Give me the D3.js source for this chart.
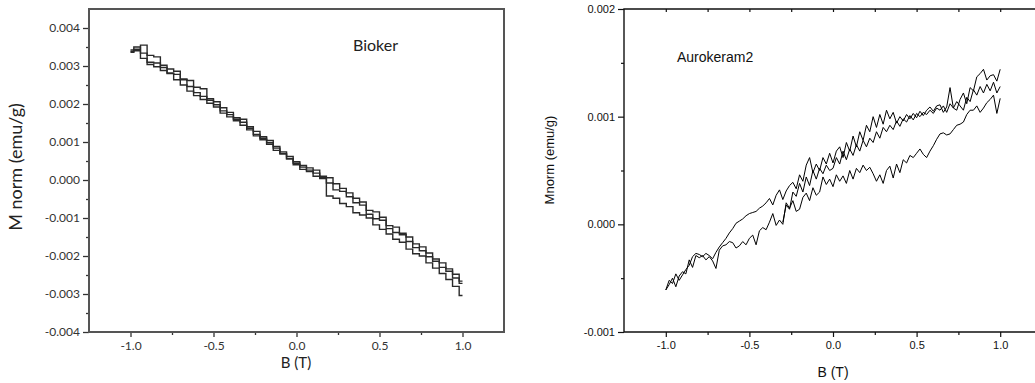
<!DOCTYPE html>
<html>
<head>
<meta charset="utf-8">
<script src="https://cdn.jsdelivr.net/npm/d3@7"></script>
<style>
  body { margin: 0; background: #fff; }
  svg { display: block; }
</style>
</head>
<body>
<div id="chart"></div>
<script>
// ---- Bioker panel: field sweep (T) and three measured branches, M norm in 1e-3 emu/g
const biokerField = [-1.00, -0.96, -0.92, -0.88, -0.84, -0.80, -0.76, -0.72, -0.68, -0.64,
  -0.60, -0.56, -0.52, -0.48, -0.44, -0.40, -0.36, -0.32, -0.28, -0.24,
  -0.20, -0.16, -0.12, -0.08, -0.04, 0.00, 0.04, 0.08, 0.12, 0.16,
  0.20, 0.24, 0.28, 0.32, 0.36, 0.40, 0.44, 0.48, 0.52, 0.56,
  0.60, 0.64, 0.68, 0.72, 0.76, 0.80, 0.84, 0.88, 0.92, 0.96, 1.00];
const biokerA = [3.38, 3.44, 3.55, 3.28, 3.24, 3.02, 2.92, 2.86, 2.64, 2.62,
  2.22, 2.20, 2.10, 2.06, 1.82, 1.78, 1.64, 1.60, 1.40, 1.28,
  1.10, 1.04, 0.88, 0.74, 0.62, 0.48, 0.38, 0.32, 0.26, 0.10,
  0.06, -0.10, -0.22, -0.34, -0.48, -0.58, -0.80, -0.84, -0.98, -1.20,
  -1.24, -1.40, -1.50, -1.68, -1.76, -1.92, -2.08, -2.18, -2.34, -2.48, -2.66];
const biokerB = [3.42, 3.50, 3.34, 3.10, 3.08, 2.96, 2.80, 2.78, 2.66, 2.46,
  2.44, 2.40, 2.14, 1.92, 1.90, 1.72, 1.56, 1.52, 1.32, 1.20,
  1.14, 0.94, 0.84, 0.68, 0.56, 0.44, 0.28, 0.22, 0.10, 0.04,
  -0.08, -0.26, -0.30, -0.44, -0.60, -0.66, -0.90, -1.02, -1.06, -1.28,
  -1.38, -1.44, -1.62, -1.78, -1.86, -2.02, -2.14, -2.30, -2.40, -2.58, -2.72];
const biokerC = [3.36, 3.40, 3.20, 3.04, 2.98, 2.88, 2.82, 2.64, 2.50, 2.34,
  2.30, 2.12, 2.02, 1.98, 1.76, 1.66, 1.60, 1.44, 1.36, 1.16,
  1.06, 0.98, 0.78, 0.70, 0.56, 0.40, 0.34, 0.26, 0.18, 0.06,
  -0.42, -0.48, -0.62, -0.70, -0.86, -0.92, -1.00, -1.18, -1.30, -1.42,
  -1.56, -1.64, -1.82, -1.94, -2.00, -2.18, -2.32, -2.46, -2.62, -2.80, -3.04];

// ---- Aurokeram2 panel: field sweep (T) and branches, Mnorm in 1e-3 emu/g
const aurokeramField = [-1.00, -0.98, -0.96, -0.94, -0.92, -0.90, -0.88, -0.86, -0.84, -0.82,
  -0.80, -0.78, -0.76, -0.74, -0.72, -0.70, -0.68, -0.66, -0.64, -0.62,
  -0.60, -0.58, -0.56, -0.54, -0.52, -0.50, -0.48, -0.46, -0.44, -0.42,
  -0.40, -0.38, -0.36, -0.34, -0.32, -0.30, -0.28, -0.26, -0.24, -0.22,
  -0.20, -0.18, -0.16, -0.14, -0.12, -0.10, -0.08, -0.06, -0.04, -0.02,
  0.00, 0.02, 0.04, 0.06, 0.08, 0.10, 0.12, 0.14, 0.16, 0.18,
  0.20, 0.22, 0.24, 0.26, 0.28, 0.30, 0.32, 0.34, 0.36, 0.38,
  0.40, 0.42, 0.44, 0.46, 0.48, 0.50, 0.52, 0.54, 0.56, 0.58,
  0.60, 0.62, 0.64, 0.66, 0.68, 0.70, 0.72, 0.74, 0.76, 0.78,
  0.80, 0.82, 0.84, 0.86, 0.88, 0.90, 0.92, 0.94, 0.96, 0.98, 1.00];
const aurokeramRising = [-0.61, -0.56, -0.50, -0.58, -0.48, -0.44, -0.46, -0.33, -0.40, -0.29,
  -0.31, -0.29, -0.33, -0.30, -0.34, -0.41, -0.24, -0.20, -0.19, -0.16,
  -0.17, -0.22, -0.20, -0.16, -0.19, -0.13, -0.10, -0.19, -0.06, -0.03,
  -0.05, 0.02, 0.10, -0.01, 0.04, 0.00, 0.20, 0.15, 0.22, 0.12,
  0.14, 0.25, 0.29, 0.22, 0.34, 0.27, 0.30, 0.44, 0.37, 0.42,
  0.35, 0.46, 0.40, 0.45, 0.38, 0.50, 0.42, 0.52, 0.48, 0.55,
  0.50, 0.53, 0.47, 0.40, 0.46, 0.38, 0.50, 0.54, 0.43, 0.56,
  0.48, 0.60, 0.57, 0.64, 0.62, 0.66, 0.70, 0.65, 0.62, 0.68,
  0.73, 0.79, 0.84, 0.85, 0.83, 0.84, 0.88, 0.92, 0.93, 0.95,
  1.02, 1.06, 1.06, 1.10, 1.04, 1.08, 1.13, 1.16, 1.20, 1.03, 1.17];
const aurokeramFalling = [-0.61, -0.52, -0.55, -0.46, -0.52, -0.47, -0.42, -0.38, -0.30, -0.27,
  -0.28, -0.30, -0.27, -0.29, -0.32, -0.26, -0.21, -0.17, -0.13, -0.08,
  -0.04, 0.01, 0.03, 0.05, 0.08, 0.10, 0.11, 0.12, 0.15, 0.17,
  0.20, 0.24, 0.18, 0.27, 0.32, 0.23, 0.31, 0.36, 0.39, 0.33,
  0.46, 0.40, 0.55, 0.62, 0.48, 0.56, 0.50, 0.62, 0.56, 0.66,
  0.57, 0.68, 0.72, 0.62, 0.76, 0.68, 0.82, 0.72, 0.86, 0.78,
  0.92, 0.86, 1.00, 0.90, 1.02, 0.93, 1.06, 0.98, 1.04, 0.94,
  1.00, 0.96, 1.02, 0.98, 1.03, 0.99, 1.05, 1.01, 1.06, 1.09,
  1.05, 1.10, 1.11, 1.04, 1.09, 1.27, 1.08, 1.06, 1.16, 1.22,
  1.12, 1.27, 1.24, 1.37, 1.40, 1.44, 1.34, 1.38, 1.39, 1.33, 1.44];
// repeat branch, leaves the rising branch at B = -0.30 T
const aurokeramRepeat = [0.02, 0.18, 0.14, 0.30, 0.26, 0.38, 0.30, 0.44, 0.36, 0.50,
  0.42, 0.52, 0.47, 0.55, 0.50,
  0.52, 0.62, 0.56, 0.68, 0.60, 0.70, 0.64, 0.74, 0.68, 0.78,
  0.72, 0.80, 0.76, 0.86, 0.80, 0.90, 0.86, 0.92, 0.88, 0.96,
  0.91, 0.98, 0.95, 1.01, 0.97, 1.03, 1.00, 1.04, 1.02, 1.06,
  1.03, 1.08, 1.06, 1.10, 1.04, 1.12, 1.08, 1.14, 1.10, 1.06,
  1.18, 1.14, 1.25, 1.20, 1.28, 1.22, 1.30, 1.24, 1.32, 1.22, 1.28];

// ---- tick values
const fieldTicks = [-1.0, -0.5, 0.0, 0.5, 1.0];
const fieldMinorTicks = [-0.75, -0.25, 0.25, 0.75];
const biokerTicks = [-4, -3, -2, -1, 0, 1, 2, 3, 4];
const biokerMinorTicks = [-3.5, -2.5, -1.5, -0.5, 0.5, 1.5, 2.5, 3.5];
const aurokeramTicks = [-1, 0, 1, 2];
const aurokeramMinorTicks = [-0.5, 0.5, 1.5];

// pair a branch with the last part of its field sweep
const toPairs = (xs, ys) => ys.map((y, i) => [xs[xs.length - ys.length + i], y]);
const mFormat = d => (d / 1000).toFixed(3);

const svg = d3.select("#chart")
  .append("svg")
  .attr("width", 1035)
  .attr("height", 383);

svg.append("rect").attr("width", 1035).attr("height", 383).attr("fill", "#fff");

// ================= Left panel (Bioker) =================
const leftFont = "Lato, 'Open Sans', sans-serif";
const xL = d3.scaleLinear().domain([-1.25, 1.25]).range([89, 504]);
const yL = d3.scaleLinear().domain([-4, 4.5]).range([332, 9]);

const left = svg.append("g");

// Y axis, minor then major ticks
left.append("g")
  .attr("transform", "translate(89,0)")
  .call(d3.axisLeft(yL).tickValues(biokerMinorTicks).tickSize(3).tickFormat(""))
  .call(g => g.select(".domain").remove());
left.append("g")
  .attr("transform", "translate(89,0)")
  .call(d3.axisLeft(yL).tickValues(biokerTicks).tickSize(6).tickPadding(3).tickFormat(mFormat))
  .call(g => g.select(".domain").remove())
  .attr("font-family", leftFont)
  .attr("font-size", 12);

// X axis
left.append("g")
  .attr("transform", "translate(0,332)")
  .call(d3.axisBottom(xL).tickValues(fieldMinorTicks).tickSize(3).tickFormat(""))
  .call(g => g.select(".domain").remove());
left.append("g")
  .attr("transform", "translate(0,332)")
  .call(d3.axisBottom(xL).tickValues(fieldTicks).tickSize(5).tickPadding(4).tickFormat(d => d.toFixed(1)))
  .call(g => g.select(".domain").remove())
  .attr("font-family", leftFont)
  .attr("font-size", 12);

left.selectAll(".tick line").attr("stroke", "#333").attr("stroke-width", 1.3);
left.selectAll(".tick text").attr("fill", "#333");

// frame
left.append("rect")
  .attr("x", 89).attr("y", 9)
  .attr("width", 415).attr("height", 323)
  .attr("fill", "none")
  .attr("stroke", "#555")
  .attr("stroke-width", 2);

// curves
const lineL = d3.line()
  .x(d => xL(d[0]))
  .y(d => yL(d[1]))
  .curve(d3.curveStep);

left.selectAll(".bioker")
  .data([biokerA, biokerB, biokerC])
  .enter()
  .append("path")
  .attr("d", ys => lineL(toPairs(biokerField, ys)))
  .attr("fill", "none")
  .attr("stroke", "#2a2a2a")
  .attr("stroke-width", 1.4);

left.append("text")
  .attr("x", 353).attr("y", 51)
  .attr("font-family", leftFont)
  .attr("font-size", 16)
  .attr("fill", "#222")
  .text("Bioker");

left.append("text")
  .attr("transform", "translate(22,167) rotate(-90)")
  .attr("text-anchor", "middle")
  .attr("font-family", leftFont)
  .attr("font-size", 18)
  .attr("fill", "#222")
  .text("M norm (emu/g)");

left.append("text")
  .attr("x", 296).attr("y", 368)
  .attr("text-anchor", "middle")
  .attr("font-family", leftFont)
  .attr("font-size", 15)
  .attr("fill", "#222")
  .text("B (T)");

// ================= Right panel (Aurokeram2) =================
const rightFont = "'Liberation Sans', Arial, sans-serif";
const xR = d3.scaleLinear().domain([-1.25, 1.25]).range([624, 1042]);
const yR = d3.scaleLinear().domain([-1, 2]).range([332, 9]);

const right = svg.append("g");

right.append("g")
  .attr("transform", "translate(624,0)")
  .call(d3.axisLeft(yR).tickValues(aurokeramMinorTicks).tickSize(3).tickFormat(""))
  .call(g => g.select(".domain").remove());
right.append("g")
  .attr("transform", "translate(624,0)")
  .call(d3.axisLeft(yR).tickValues(aurokeramTicks).tickSize(6).tickPadding(3).tickFormat(mFormat))
  .call(g => g.select(".domain").remove())
  .attr("font-family", rightFont)
  .attr("font-size", 11);

right.append("g")
  .attr("transform", "translate(0,332)")
  .call(d3.axisBottom(xR).tickValues(fieldMinorTicks).tickSize(3).tickFormat(""))
  .call(g => g.select(".domain").remove());
right.append("g")
  .attr("transform", "translate(0,332)")
  .call(d3.axisBottom(xR).tickValues(fieldTicks).tickSize(5).tickPadding(4).tickFormat(d => d.toFixed(1)))
  .call(g => g.select(".domain").remove())
  .attr("font-family", rightFont)
  .attr("font-size", 11);

// top frame ticks point inwards
right.append("g")
  .attr("transform", "translate(0,9)")
  .call(d3.axisTop(xR).tickValues(fieldTicks.concat(fieldMinorTicks)).tickSize(-3).tickFormat(""))
  .call(g => g.select(".domain").remove());

right.selectAll(".tick line").attr("stroke", "#111").attr("stroke-width", 1.2);
right.selectAll(".tick text").attr("fill", "#111");

// frame lines (right side runs off the page)
right.append("path")
  .attr("d", d3.line()([[1042, 9], [624, 9], [624, 332], [1042, 332]]))
  .attr("fill", "none")
  .attr("stroke", "#111")
  .attr("stroke-width", 1.4);

const lineR = d3.line()
  .x(d => xR(d[0]))
  .y(d => yR(d[1]));

right.selectAll(".aurokeram")
  .data([aurokeramRising, aurokeramFalling, aurokeramRepeat])
  .enter()
  .append("path")
  .attr("d", ys => lineR(toPairs(aurokeramField, ys)))
  .attr("fill", "none")
  .attr("stroke", "#000")
  .attr("stroke-width", 1);

right.append("text")
  .attr("x", 677).attr("y", 62)
  .attr("font-family", rightFont)
  .attr("font-size", 14)
  .attr("fill", "#111")
  .text("Aurokeram2");

right.append("text")
  .attr("transform", "translate(554,160) rotate(-90)")
  .attr("text-anchor", "middle")
  .attr("font-family", rightFont)
  .attr("font-size", 13)
  .attr("fill", "#111")
  .text("Mnorm (emu/g)");

right.append("text")
  .attr("x", 833).attr("y", 377)
  .attr("text-anchor", "middle")
  .attr("font-family", rightFont)
  .attr("font-size", 14)
  .attr("fill", "#111")
  .text("B (T)");
</script>
</body>
</html>
